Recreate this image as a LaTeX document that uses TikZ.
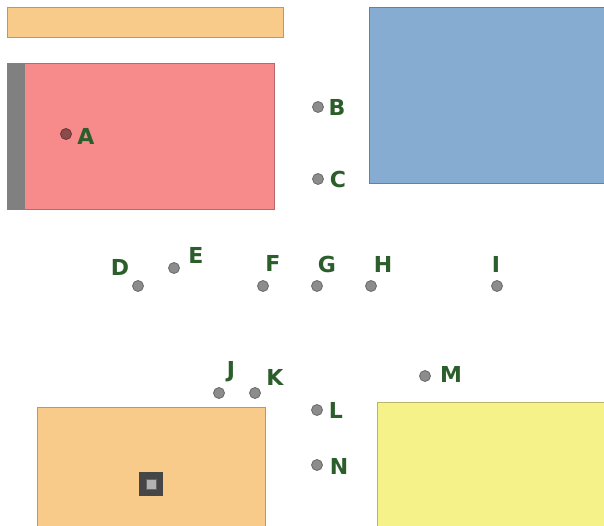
\documentclass[tikz,border=0pt]{standalone}
\usepackage{fontspec}
\setmainfont{DejaVu Sans}
\begin{document}
\begin{tikzpicture}[x=1pt,y=-1pt,
  area/.style={draw=#1!75!black,line width=0.8pt,fill=#1},
  pt/.style={circle,fill=dotgray,draw=dotgray!75!black,line width=0.8pt,minimum size=11pt,inner sep=0pt},
  lab/.style={text=labgreen,font=\bfseries\fontsize{22}{22}\selectfont,inner sep=0pt}]
\definecolor{orangeA}{HTML}{F8CB8A}
\definecolor{redA}{HTML}{F78A8A}
\definecolor{blueA}{HTML}{86ACD1}
\definecolor{yellowA}{HTML}{F6F28A}
\definecolor{stripgray}{HTML}{808080}
\definecolor{dotgray}{HTML}{8C8C8C}
\definecolor{labgreen}{HTML}{2B5E2B}
\definecolor{dotred}{HTML}{8B4B4B}
\useasboundingbox[fill=white] (0,0) rectangle (604,526);
% areas
\path[area=orangeA] (7,7) rectangle (283,37);
\path[area=redA] (7,63) rectangle (274,209);
\path[fill=stripgray] (7,63) rectangle (25,209);
\path[area=blueA] (369,7) rectangle (610,183);
\path[area=orangeA] (37,407) rectangle (265,530);
\path[area=yellowA] (377,402) rectangle (610,530);
% small square
\node[draw=none,fill=gray!55!black,minimum size=24pt,inner sep=0pt] (sq) at (151,484) {};
\node[fill=gray!60,draw=gray!80!black,line width=1pt,minimum size=10pt,inner sep=0pt] (sqi) at (sq) {};
% points
\node[pt,fill=dotred,draw=dotred!70!black] (pA) at (66,134) {};
\node[lab] (lA) at (86,136) {A};
\node[pt] (pB) at (318,107) {};
\node[lab] (lB) at (337,107) {B};
\node[pt] (pC) at (318,179) {};
\node[lab] (lC) at (338,179) {C};
\node[pt] (pD) at (138,286) {};
\node[lab] (lD) at (120,267) {D};
\node[pt] (pE) at (174,268) {};
\node[lab] (lE) at (196,255) {E};
\node[pt] (pF) at (263,286) {};
\node[lab] (lF) at (273,263) {F};
\node[pt] (pG) at (317,286) {};
\node[lab] (lG) at (327,264) {G};
\node[pt] (pH) at (371,286) {};
\node[lab] (lH) at (383,264) {H};
\node[pt] (pI) at (497,286) {};
\node[lab] (lI) at (496,264) {I};
\node[pt] (pJ) at (219,393) {};
\node[lab] (lJ) at (231,372) {J};
\node[pt] (pK) at (255,393) {};
\node[lab] (lK) at (275,377) {K};
\node[pt] (pL) at (317,410) {};
\node[lab] (lL) at (336,410) {L};
\node[pt] (pM) at (425,376) {};
\node[lab] (lM) at (451,374) {M};
\node[pt] (pN) at (317,465) {};
\node[lab] (lN) at (339,466) {N};
\end{tikzpicture}
\end{document}
